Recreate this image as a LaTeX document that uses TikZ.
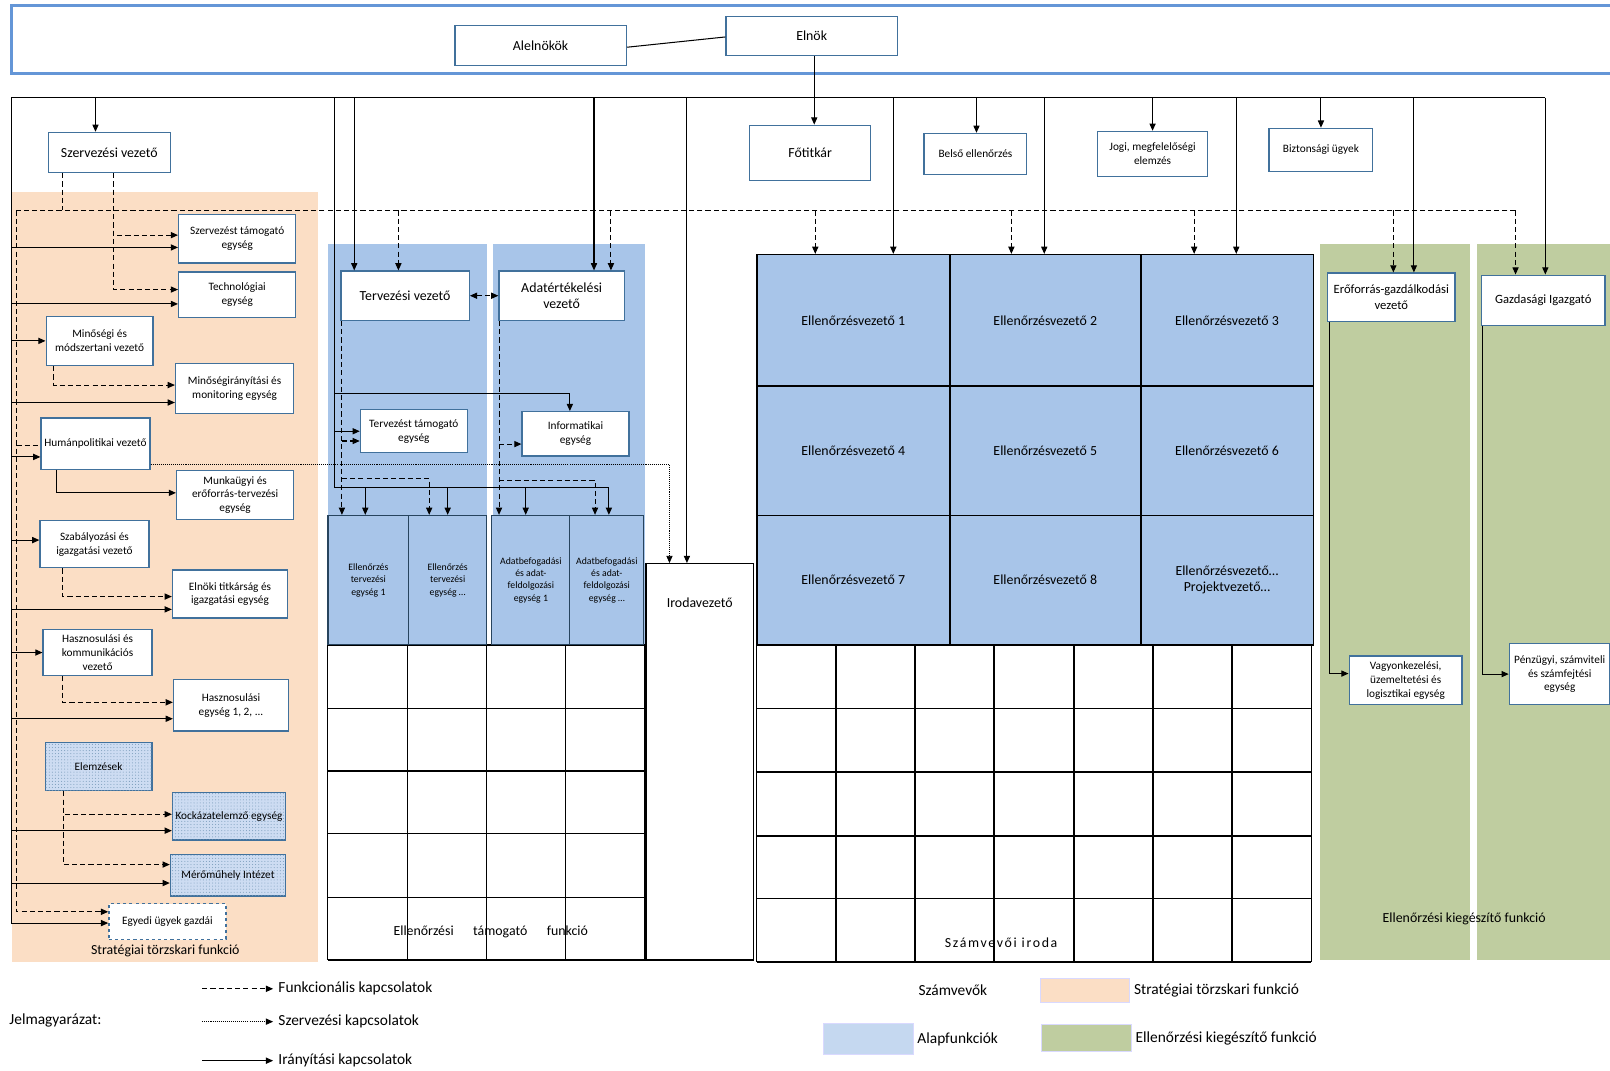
\documentclass[tikz,border=0pt]{standalone}
\usepackage{fontspec}
\setmainfont{Carlito}
\usetikzlibrary{arrows.meta,patterns,positioning}

\definecolor{boxblue}{RGB}{65,113,156}
\definecolor{bandblue}{RGB}{100,150,215}
\definecolor{peach}{RGB}{251,222,197}
\definecolor{alapblue}{RGB}{168,197,233}
\definecolor{legblue}{RGB}{197,216,240}
\definecolor{kieggreen}{RGB}{191,205,160}
\definecolor{dotblue}{RGB}{205,220,242}

\newcommand{\bigf}{\fontsize{13.5}{16}\selectfont}
\newcommand{\midf}{\fontsize{12.3}{15}\selectfont}
\newcommand{\unitf}{\fontsize{11}{13.5}\selectfont}
\newcommand{\smallf}{\fontsize{9.5}{12}\selectfont}
\newcommand{\legf}{\fontsize{15}{18}\selectfont}

\tikzset{
  unitbox/.style={draw=boxblue, line width=1.3pt, fill=white, align=center, inner sep=1pt, font=\unitf},
  leadbox/.style={unitbox, font=\bigf},
  dotbox/.style={unitbox, fill=dotblue, postaction={pattern=dots, pattern color=boxblue!70}},
  egybox/.style={unitbox, dashed},
  evcell/.style={draw=black, line width=1.5pt, fill=alapblue, align=center, font=\bigf},
  tercell/.style={draw=boxblue!60!black, line width=1.2pt, fill=alapblue, align=center, font=\smallf},
  plain/.style={line width=1pt},
  ctl/.style={plain, -{Triangle[length=7pt,width=6pt]}},
  fnlline/.style={plain, dash pattern=on 5pt off 3pt},
  fnl/.style={ctl, dash pattern=on 5pt off 3pt},
  org/.style={line width=0.8pt, dash pattern=on 1pt off 1pt, -{Triangle[length=7pt,width=6pt]}},
  gridline/.style={line width=1.4pt},
  txt/.style={font=\bigf, inner sep=1pt},
  swatch/.style={draw=blue!15, line width=0.6pt, minimum width=87pt}
}

\begin{document}
\begin{tikzpicture}[x=1pt,y=-1pt]
\useasboundingbox (0,0) rectangle (1568,1043);

% background panels
\fill[peach] (12,187) rectangle (310,937);
\fill[alapblue] (319,238) rectangle (474,628);
\fill[alapblue] (480,238) rectangle (628,628);
\fill[kieggreen] (1286,238) rectangle (1432,935);
\fill[kieggreen] (1438,238) rectangle (1575,935);
\draw[bandblue, line width=3pt] (11,5) rectangle (1580,72);

% lower grids
\foreach \x in {319,397,474,551,628}
  \draw[gridline] (\x,628) -- (\x,935);
\foreach \y in {628,690,751,812,874,935}
  \draw[gridline] (319,\y) -- (628,\y);
\foreach \x in {737,814,891,968,1046,1123,1200,1277}
  \draw[gridline] (\x,628) -- (\x,937);
\foreach \y in {628,690,752,814,875,937}
  \draw[gridline] (737,\y) -- (1277,\y);

% top
\node[leadbox, minimum width=167pt, minimum height=39pt] (alel) at (526.5,44.5) {Alelnökök};
\node[leadbox, minimum width=167pt, minimum height=38pt] (elnok) at (790.5,35) {Elnök};

% strategic staff
\node[leadbox, minimum width=119pt, minimum height=39pt] (szv) at (106.5,148.5) {Szervezési vezető};
\node[unitbox, minimum width=114pt, minimum height=47pt] (sztam) at (231,232.5) {Szervezést támogató\\egység};
\node[unitbox, minimum width=114pt, minimum height=44pt] (tech) at (231,287) {Technológiai\\egység};
\node[unitbox, minimum width=104pt, minimum height=48pt] (minv) at (97,332) {Minőségi és\\módszertani vezető};
\node[unitbox, minimum width=115pt, minimum height=49pt] (minir) at (228.5,378.5) {Minőségirányítási és\\monitoring egység};
\node[unitbox, minimum width=106pt, minimum height=50pt] (humv) at (93,432) {Humánpolitikai vezető};
\node[unitbox, minimum width=114pt, minimum height=48pt] (munka) at (229,482) {Munkaügyi és\\erőforrás-tervezési\\egység};
\node[unitbox, minimum width=106pt, minimum height=46pt] (szabv) at (92,530) {Szabályozási és\\igazgatási vezető};
\node[unitbox, minimum width=112pt, minimum height=47pt] (elnoki) at (224,578.5) {Elnöki titkárság és\\igazgatási egység};
\node[unitbox, minimum width=106pt, minimum height=45pt] (haszv) at (95,635.5) {Hasznosulási és\\kommunikációs\\vezető};
\node[unitbox, minimum width=112pt, minimum height=50pt] (haszeg) at (225,687) {Hasznosulási\\egység 1, 2, ...};
\node[dotbox, minimum width=104pt, minimum height=47pt] (elemz) at (96,746.5) {Elemzések};
\node[dotbox, minimum width=110pt, minimum height=46pt] (kock) at (223,795) {Kockázatelemző egység};
\node[dotbox, minimum width=112pt, minimum height=40pt] (mero) at (222,852.5) {Mérőműhely Intézet};
\node[egybox, minimum width=114pt, minimum height=35pt] (egyedi) at (163,897.5) {Egyedi ügyek gazdái};
\node[txt] (strat) at (161,926) {Stratégiai törzskari funkció};

% core functions
\node[leadbox, minimum width=125pt, minimum height=48pt] (terv) at (394.5,288) {Tervezési vezető};
\node[leadbox, minimum width=122pt, minimum height=48pt] (adatv) at (547,288) {Adatértékelési\\vezető};
\node[unitbox, minimum width=104pt, minimum height=42pt] (tervtam) at (403,420) {Tervezést támogató\\egység};
\node[unitbox, minimum width=104pt, minimum height=43pt] (info) at (560.5,422.5) {Informatikai\\egység};
\node[tercell, minimum width=78.5pt, minimum height=126pt] (ete1) at (358.75,565) {Ellenőrzés\\tervezési\\egység 1};
\node[tercell, minimum width=76pt, minimum height=126pt] (ete2) at (436,565) {Ellenőrzés\\tervezési\\egység …};
\node[tercell, minimum width=76pt, minimum height=126pt] (adb1) at (517,565) {Adatbefogadási\\és adat-\\feldolgozási\\egység 1};
\node[tercell, minimum width=72pt, minimum height=126pt] (adb2) at (591,565) {Adatbefogadási\\és adat-\\feldolgozási\\egység …};
\node[txt] (etf) at (478,908) {Ellenőrzési\hspace{19pt}támogató\hspace{19pt}funkció};

\node[draw=black, line width=1.3pt, fill=white, minimum width=105pt, minimum height=386pt] (irod) at (681.5,742) {};
\node[txt, below=33pt of irod.north] (irodt) {Irodavezető};

% right
\node[leadbox, minimum width=118pt, minimum height=54pt] (fotit) at (789,149) {Főtitkár};
\node[unitbox, minimum width=100pt, minimum height=40pt] (belso) at (950,150) {Belső ellenőrzés};
\node[unitbox, minimum width=107pt, minimum height=44pt] (jogi) at (1122.5,150) {Jogi, megfelelőségi\\elemzés};
\node[unitbox, minimum width=101pt, minimum height=42pt] (bizt) at (1286.5,146) {Biztonsági ügyek};

\foreach \n/\cx/\cy/\w/\h in {1/831/312/188/128, 2/1018/312/186/128, 3/1195/312/168/128,
    4/831/439/188/126, 5/1018/439/186/126, 6/1195/439/168/126,
    7/831/565/188/126, 8/1018/565/186/126}
  \node[evcell, minimum width=\w pt, minimum height=\h pt] (ev\n) at (\cx,\cy) {Ellenőrzésvezető \n};
\node[evcell, minimum width=168pt, minimum height=126pt] (ev9) at (1195,565) {Ellenőrzésvezető…\\Projektvezető…};
\node[txt, font=\bigf\addfontfeature{LetterSpace=12}] (szi) at (975,918) {Számvevői iroda};

\node[leadbox, font=\midf, minimum width=124pt, minimum height=47pt] (eroforr) at (1355,289.5) {Erőforrás-gazdálkodási\\vezető};
\node[leadbox, font=\midf, minimum width=120pt, minimum height=49pt] (gazd) at (1503,292.5) {Gazdasági Igazgató};
\node[unitbox, minimum width=110pt, minimum height=47pt] (vagyon) at (1369,662.5) {Vagyonkezelési,\\üzemeltetési és\\logisztikai egység};
\node[unitbox, minimum width=98pt, minimum height=59pt] (penz) at (1519,656.5) {Pénzügyi, számviteli\\és számfejtési\\egység};
\node[txt] (kieg) at (1426,895) {Ellenőrzési kiegészítő funkció};

% buses
\coordinate (bus0) at (11,95);
\coordinate (bus1) at (1505,95);
\coordinate (lbot) at (11,899);
\coordinate (dbL) at (16,205);
\coordinate (dbR) at (1476,205);
\draw[plain] (lbot) -- (bus0) -- (bus1);
\draw[ctl] (bus1) -- ([xshift=2pt]gazd.north);
\draw[ctl] (lbot) -- ([yshift=-1.5pt]egyedi.west);
\draw[fnlline] (dbR) -- (dbL);
\draw[fnl] (dbL) |- ([yshift=9.5pt]egyedi.west);
\draw[fnl] (dbR) -- (dbR |- gazd.north);

\draw[plain] ([yshift=-1.5pt]alel.east) -- ([yshift=-1pt]elnok.west);
\draw[ctl] ([xshift=2.5pt]elnok.south) -- ([xshift=2.5pt]elnok.south |- fotit.north);

% strategic staff links
\draw[ctl] ([xshift=-13.5pt]szv.north |- bus0) -- ([xshift=-13.5pt]szv.north);
\draw[fnlline] ([xshift=-45.5pt]szv.south) -- ([xshift=-45.5pt]szv.south |- dbL);
\draw[fnl] ([xshift=4pt]szv.south) |- ([yshift=3.5pt]sztam.west);
\draw[fnl] ([xshift=4pt]szv.south) |- ([yshift=5pt]tech.west);
\draw[ctl] ([yshift=-8.5pt]sztam.west -| bus0) -- ([yshift=-8.5pt]sztam.west);
\draw[ctl] ([yshift=-9pt]tech.west -| bus0) -- ([yshift=-9pt]tech.west);
\draw[ctl] (minv.west -| bus0) -- (minv.west);
\draw[fnl] ([xshift=-44.5pt]minv.south) |- ([yshift=3.5pt]minir.west);
\draw[ctl] ([yshift=-13.5pt]minir.west -| bus0) -- ([yshift=-13.5pt]minir.west);
\draw[fnlline] ([yshift=-2pt]humv.west -| dbL) -- ([yshift=-2pt]humv.west);
\draw[ctl] ([yshift=-13pt]humv.west -| bus0) -- ([yshift=-13pt]humv.west);
\draw[ctl] ([xshift=-38pt]humv.south) |- ([yshift=2pt]munka.west);
\draw[org] ([yshift=-20pt]humv.east) -| ([xshift=-29.5pt]irod.north);
\draw[ctl] ([yshift=4pt]szabv.west -| bus0) -- ([yshift=4pt]szabv.west);
\draw[fnl] ([xshift=-31pt]szabv.south) |- ([yshift=-2.5pt]elnoki.west);
\draw[ctl] ([yshift=-15pt]elnoki.west -| bus0) -- ([yshift=-15pt]elnoki.west);
\draw[ctl] (haszv.west -| bus0) -- (haszv.west);
\draw[fnl] ([xshift=-34pt]haszv.south) |- ([yshift=3pt]haszeg.west);
\draw[ctl] ([yshift=-13pt]haszeg.west -| bus0) -- ([yshift=-13pt]haszeg.west);
\draw[fnl] ([xshift=-34.5pt]elemz.south) |- ([yshift=2pt]kock.west);
\draw[fnl] ([xshift=-34.5pt]elemz.south) |- ([yshift=10.5pt]mero.west);
\draw[ctl] ([yshift=-14pt]kock.west -| bus0) -- ([yshift=-14pt]kock.west);
\draw[ctl] ([yshift=-7.5pt]mero.west -| bus0) -- ([yshift=-7.5pt]mero.west);

% core function links
\coordinate (cvtop) at (326,95);
\coordinate (cvinfo) at (326,383.5);
\coordinate (cvbot) at (326,475);
\coordinate (cvend) at (593,475);
\draw[plain] (cvtop) -- (cvbot) -- (cvend);
\draw[ctl] (cvinfo) -| ([xshift=-5.5pt]info.north);
\draw[ctl] (tervtam.west -| cvtop) -- (tervtam.west);
\draw[ctl] ([xshift=-3pt]ete1.north |- cvbot) -- ([xshift=-3pt]ete1.north);
\draw[ctl] (ete2.north |- cvbot) -- (ete2.north);
\draw[ctl] ([xshift=-5pt]adb1.north |- cvbot) -- ([xshift=-5pt]adb1.north);
\draw[ctl] (cvend) -- ([xshift=2pt]adb2.north);

\draw[ctl] ([xshift=-49.5pt]terv.north |- bus0) -- ([xshift=-49.5pt]terv.north);
\draw[fnl] ([xshift=-6.5pt]terv.north |- dbL) -- ([xshift=-6.5pt]terv.north);
\draw[ctl] ([xshift=31.5pt]adatv.north |- bus0) -- ([xshift=31.5pt]adatv.north);
\draw[fnl] ([xshift=48pt]adatv.north |- dbL) -- ([xshift=48pt]adatv.north);
\draw[fnl, {Triangle[length=7pt,width=6pt]}-{Triangle[length=7pt,width=6pt]}] (terv.east) -- (adatv.west);

\coordinate (tdash) at ([xshift=-61.5pt]terv.south);
\draw[fnl] (tdash) -- (tdash |- ete1.north);
\draw[fnl] ([yshift=-9.5pt]tervtam.west -| tdash) -- ([yshift=-9.5pt]tervtam.west);
\coordinate (tbr) at (333,466);
\draw[fnl] (tbr) -| ([xshift=-18pt]ete2.north);
\coordinate (adash) at ([xshift=-61pt]adatv.south);
\draw[fnl] (adash) -- (adash |- adb1.north);
\draw[fnl] ([yshift=-10pt]info.west -| adash) -- ([yshift=-10pt]info.west);
\coordinate (abr) at (486,467.5);
\draw[fnl] (abr) -| ([xshift=-11.5pt]adb2.north);

\draw[ctl] ([xshift=-12.5pt]irod.north |- bus0) -- ([xshift=-12.5pt]irod.north);

% audit side links
\draw[ctl] ([xshift=1pt]belso.north |- bus0) -- ([xshift=1pt]belso.north);
\draw[ctl] (jogi.north |- bus0) -- (jogi.north);
\draw[ctl] (bizt.north |- bus0) -- (bizt.north);
\foreach \c/\s in {ev1/39, ev2/-1, ev3/9}
  \draw[ctl] ([xshift=\s pt]\c.north |- bus0) -- ([xshift=\s pt]\c.north);
\foreach \c/\s in {ev1/-37, ev2/-33, ev3/-32}
  \draw[fnl] ([xshift=\s pt]\c.north |- dbL) -- ([xshift=\s pt]\c.north);
\draw[ctl] ([xshift=22pt]eroforr.north |- bus0) -- ([xshift=22pt]eroforr.north);
\draw[fnl] ([xshift=2pt]eroforr.north |- dbL) -- ([xshift=2pt]eroforr.north);
\draw[ctl] ([xshift=-60pt]eroforr.south) |- ([yshift=6.5pt]vagyon.west);
\draw[ctl] ([xshift=-59pt]gazd.south) |- (penz.west);

% legend
\node[txt, font=\legf, anchor=west] (jelm) at (8,994) {Jelmagyarázat:};
\coordinate (lg1) at (197,963);
\coordinate (lg2) at (197,995);
\coordinate (lg3) at (197,1033);
\node[txt, font=\legf, anchor=west] (lgf) at (270,963) {Funkcionális kapcsolatok};
\node[txt, font=\legf, anchor=west] (lgs) at (270,995) {Szervezési kapcsolatok};
\node[txt, font=\legf, anchor=west] (lgi) at (270,1033) {Irányítási kapcsolatok};
\draw[fnl] (lg1) -- ([xshift=-4pt]lgf.west);
\draw[org] (lg2) -- ([xshift=-4pt]lgs.west);
\draw[ctl] (lg3) -- ([xshift=-4pt]lgi.west);
\node[txt, font=\legf] (szamv) at (928,964) {Számvevők};
\node[swatch, fill=peach, minimum height=23pt] (swp) at (1056.5,964.5) {};
\node[txt, font=\legf, right=3pt of swp] (swpt) {Stratégiai törzskari funkció};
\node[swatch, fill=legblue, minimum height=30pt] (swb) at (845.5,1012) {};
\node[txt, font=\legf, right=3pt of swb] (swbt) {Alapfunkciók};
\node[swatch, fill=kieggreen, minimum height=26pt] (swg) at (1058,1011) {};
\node[txt, font=\legf, right=3pt of swg] (swgt) {Ellenőrzési kiegészítő funkció};
\end{tikzpicture}
\end{document}
